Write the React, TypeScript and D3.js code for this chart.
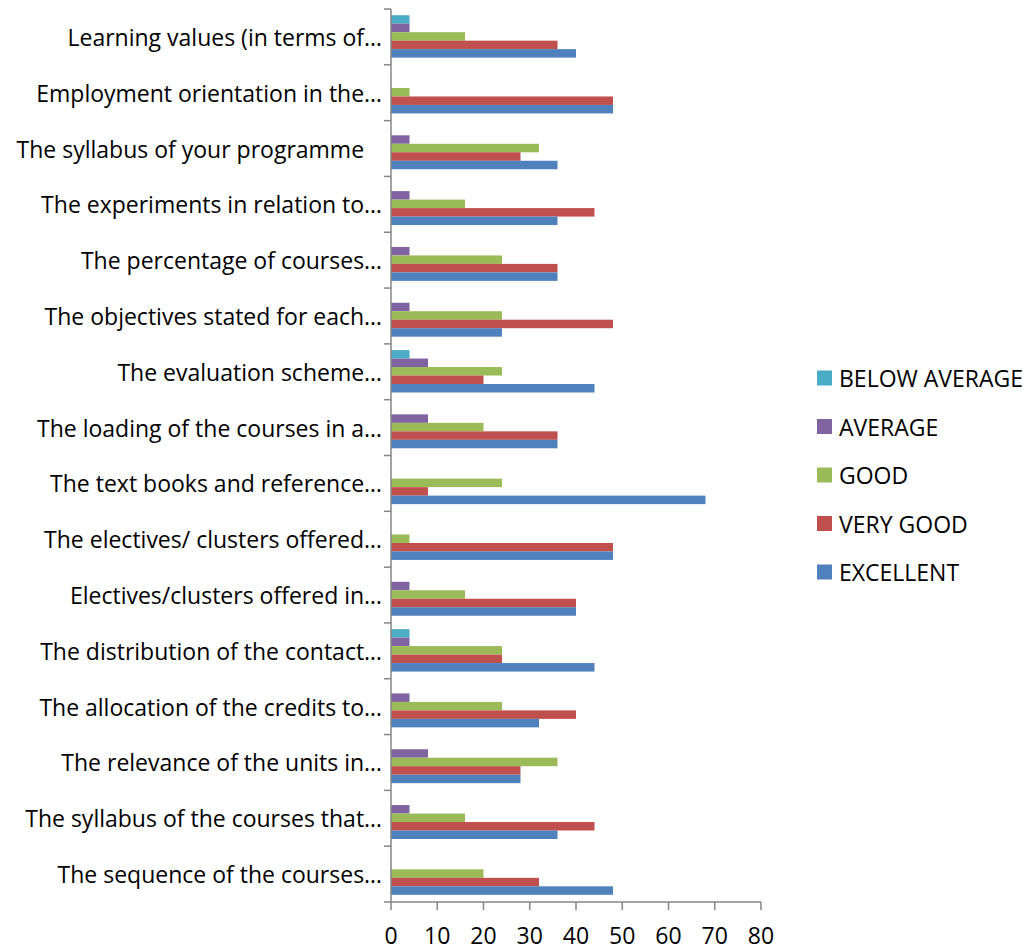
import React from "react";
import * as d3 from "d3";

const categories = [
  "Learning values (in terms of…",
  "Employment orientation in the…",
  "The syllabus of your programme   ",
  "The experiments in relation to…",
  "The percentage of courses…",
  "The objectives stated for each…",
  "The evaluation scheme…",
  "The loading of the courses in a…",
  "The text books and reference…",
  "The electives/ clusters offered…",
  "Electives/clusters offered in…",
  "The distribution of the contact…",
  "The allocation of the credits to…",
  "The relevance of the units in…",
  "The syllabus of the courses that…",
  "The sequence of the courses…",
];

const seriesNames = ["BELOW AVERAGE", "AVERAGE", "GOOD", "VERY GOOD", "EXCELLENT"];
const seriesColors = ["#4BACC6", "#8064A2", "#9BBB59", "#C0504D", "#4F81BD"];

const belowAverage = [4, 0, 0, 0, 0, 0, 4, 0, 0, 0, 0, 4, 0, 0, 0, 0];
const average = [4, 0, 4, 4, 4, 4, 8, 8, 0, 0, 4, 4, 4, 8, 4, 0];
const good = [16, 4, 32, 16, 24, 24, 24, 20, 24, 4, 16, 24, 24, 36, 16, 20];
const veryGood = [36, 48, 28, 44, 36, 48, 20, 36, 8, 48, 40, 24, 40, 28, 44, 32];
const excellent = [40, 48, 36, 36, 36, 24, 44, 36, 68, 48, 40, 44, 32, 28, 36, 48];

const seriesValues = [belowAverage, average, good, veryGood, excellent];
const xTicks = [0, 10, 20, 30, 40, 50, 60, 70, 80];

export default function App() {
  const width = 1032;
  const height = 950;
  const left = 391;
  const right = 761;
  const top = 9;
  const bottom = 902;
  const font = "'Open Sans', sans-serif";
  const axisColor = "#868686";

  const x = d3.scaleLinear().domain([0, 80]).range([left, right]);
  const y = d3.scaleBand<string>().domain(categories).range([top, bottom]).paddingInner(0).paddingOuter(0);
  const inner = d3
    .scaleBand<string>()
    .domain(seriesNames)
    .range([0, y.bandwidth() * 0.76])
    .padding(0);
  const groupOffset = (y.bandwidth() - y.bandwidth() * 0.76) / 2 - 0.5;

  return (
    <svg width={width} height={height} style={{ position: "absolute", left: 0, top: 0, background: "#fff" }}>
      {/* bars */}
      {categories.map((c, ci) => (
        <g key={c}>
          {seriesNames.map((s, si) => {
            const v = seriesValues[si][ci];
            if (!v) return null;
            return (
              <rect
                key={s}
                x={x(0)}
                y={(y(c) as number) + groupOffset + (inner(s) as number)}
                width={x(v) - x(0)}
                height={inner.bandwidth()}
                fill={seriesColors[si]}
              />
            );
          })}
        </g>
      ))}

      {/* y axis */}
      <line x1={left} x2={left} y1={top} y2={bottom} stroke={axisColor} strokeWidth={1.5} />
      {d3.range(categories.length + 1).map((i) => {
        const yy = top + i * y.step();
        return <line key={i} x1={left - 7} x2={left} y1={yy} y2={yy} stroke={axisColor} strokeWidth={1.5} />;
      })}
      {categories.map((c) => (
        <text
          key={c}
          x={382}
          y={(y(c) as number) + y.bandwidth() / 2}
          textAnchor="end"
          dominantBaseline="central"
          fontFamily={font}
          fontSize={23}
          fill="#000"
          style={{ whiteSpace: "pre" }}
        >
          {c}
        </text>
      ))}

      {/* x axis */}
      <line x1={left} x2={right} y1={bottom} y2={bottom} stroke={axisColor} strokeWidth={1.5} />
      {xTicks.map((t) => (
        <g key={t}>
          <line x1={x(t)} x2={x(t)} y1={bottom} y2={bottom + 8} stroke={axisColor} strokeWidth={1.5} />
          <text x={x(t)} y={944} textAnchor="middle" fontFamily={font} fontSize={23} fill="#000">
            {t}
          </text>
        </g>
      ))}

      {/* legend */}
      {seriesNames.map((s, i) => {
        const cy = 378 + i * 48.5;
        return (
          <g key={s}>
            <rect x={817} y={cy - 7.5} width={15} height={15} fill={seriesColors[i]} />
            <text x={839} y={cy} dominantBaseline="central" fontFamily={font} fontSize={23} fill="#000">
              {s}
            </text>
          </g>
        );
      })}
    </svg>
  );
}
